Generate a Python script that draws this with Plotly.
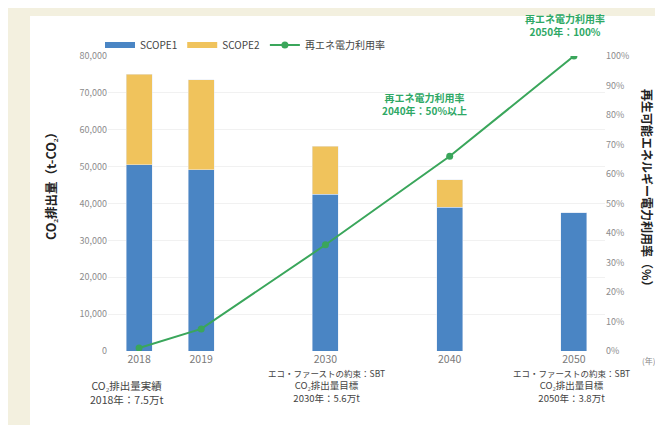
import plotly.graph_objects as go

# ---- data ----
years = ["2018", "2019", "2030", "2040", "2050"]
scope1 = [50500, 49200, 42500, 39000, 37500]
scope2 = [24500, 24300, 13000, 7500, 0]
re_rate = [1, 7.5, 36, 66, 100]

axis_order = ["2018", "2019", "g1", "2030", "g2", "2040", "g3", "2050"]
left_ticks = [0, 10000, 20000, 30000, 40000, 50000, 60000, 70000, 80000]
left_ticktext = ["0", "10,000", "20,000", "30,000", "40,000", "50,000", "60,000", "70,000", "80,000"]
right_ticks = [0, 10, 20, 30, 40, 50, 60, 70, 80, 90, 100]
right_ticktext = ["0%", "10%", "20%", "30%", "40%", "50%", "60%", "70%", "80%", "90%", "100%"]

BLUE = "#4a85c4"
GOLD = "#f0c35c"
GREEN = "#3aa65b"
TGREEN = "#2ea865"
FONT = "Noto Sans CJK JP"

fig = go.Figure()
fig.add_trace(go.Bar(name="SCOPE1", x=years, y=scope1, marker_color=BLUE, width=0.42,
                     showlegend=False))
fig.add_trace(go.Bar(name="SCOPE2", x=years, y=scope2, marker_color=GOLD, width=0.42,
                     showlegend=False))
fig.add_trace(go.Scatter(name="再エネ電力利用率", x=years, y=re_rate, yaxis="y2",
                         mode="lines+markers", line=dict(color=GREEN, width=2),
                         marker=dict(color=GREEN, size=7), showlegend=False))
# legend entries (wide swatches as in the reference)
fig.add_trace(go.Scatter(name="SCOPE1", x=[None], y=[None], mode="lines",
                         line=dict(color=BLUE, width=6)))
fig.add_trace(go.Scatter(name="SCOPE2", x=[None], y=[None], mode="lines",
                         line=dict(color=GOLD, width=6)))
fig.add_trace(go.Scatter(name="再エネ電力利用率", x=[None], y=[None], mode="lines+markers",
                         line=dict(color=GREEN, width=2), marker=dict(color=GREEN, size=7)))

W, H = 663, 425
ml, mr, mt, mb = 100, 66, 48, 82
pw, ph = W - ml - mr, H - mt - mb

def px(x):
    return (x - ml) / pw

def py(y):
    return (H - mb - y) / ph

fig.update_layout(
    width=W, height=H,
    margin=dict(l=ml, r=mr, t=mt, b=mb, pad=0),
    barmode="stack",
    paper_bgcolor="#f3f0df",
    plot_bgcolor="rgba(0,0,0,0)",
    font=dict(family=FONT, size=10, color="#555555"),
    showlegend=True,
    legend=dict(orientation="h", x=px(92), y=py(37), xanchor="left", yanchor="middle",
                traceorder="normal",
                font=dict(size=10, color="#444444"), bgcolor="rgba(0,0,0,0)",
                itemwidth=30, tracegroupgap=0),
    xaxis=dict(type="category", categoryorder="array", categoryarray=axis_order,
               tickvals=years, ticktext=years, range=[-0.5, 7.5],
               showgrid=False, showline=False, zeroline=False, ticks="",
               tickfont=dict(size=10.5, color="#7a7a7a")),
    yaxis=dict(range=[0, 80000], tickvals=left_ticks, ticktext=left_ticktext,
               showgrid=True, gridcolor="#f1f1f1", gridwidth=1, zeroline=False,
               showline=False, ticks="", tickfont=dict(size=9, color="#8c8c8c")),
    yaxis2=dict(range=[0, 100], tickvals=right_ticks, ticktext=right_ticktext,
                overlaying="y", side="right", showgrid=False, zeroline=False,
                showline=False, ticks="", tickfont=dict(size=9, color="#8c8c8c")),
    bargap=0.5,
)

# white panel
fig.add_shape(type="rect", xref="paper", yref="paper", layer="below",
              x0=px(22), x1=px(660), y0=py(419), y1=py(8),
              fillcolor="white", line=dict(width=0))

def note(text, x, y, color="#444444", size=10, angle=0):
    fig.add_annotation(text=text, xref="paper", yref="paper", x=px(x), y=py(y),
                       showarrow=False, textangle=angle,
                       font=dict(family=FONT, size=size, color=color),
                       xanchor="center", yanchor="middle", align="center")

note("<b>再エネ電力利用率<br>2050年：100%</b>", 557, 17, TGREEN, 10)
note("<b>再エネ電力利用率<br>2040年：50%以上</b>", 416, 96, TGREEN, 10)

note("CO₂排出量実績<br>2018年：7.5万t", 118, 384, "#444444", 10.5)
note("<span style='font-size:8.5px'>エコ・ファーストの約束：SBT</span><br>CO₂排出量目標<br>2030年：5.6万t",
     318, 378, "#444444", 9.5)
note("<span style='font-size:8.5px'>エコ・ファーストの約束：SBT</span><br>CO₂排出量目標<br>2050年：3.8万t",
     563, 378, "#444444", 9.5)
note("(年)", 640, 352, "#888888", 8)

note("<b>CO₂排出量（t-CO₂）</b>", 42, 175, "#222222", 12.5, angle=-90)
note("<b>再生可能エネルギー電力利用率（%）</b>", 640, 183, "#222222", 12, angle=90)

fig.write_html("out.html")
